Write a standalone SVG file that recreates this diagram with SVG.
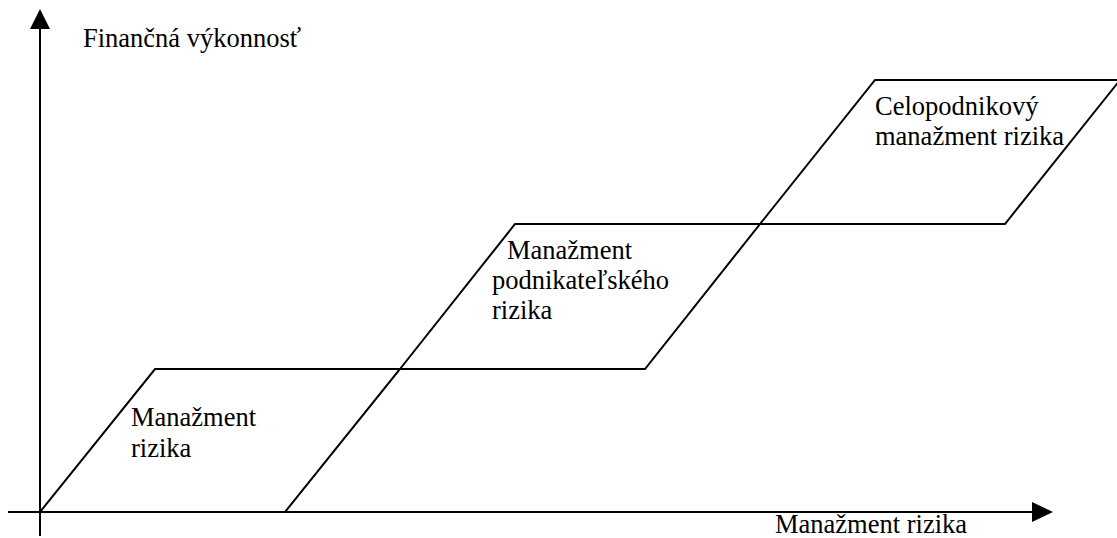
<svg xmlns="http://www.w3.org/2000/svg" width="1117" height="538" viewBox="0 0 1117 538">
<style>
.ax{stroke:#000;stroke-width:2;fill:none}
.pg{stroke:#000;stroke-width:2;fill:none;stroke-linejoin:miter}
.ah{fill:#000}
text{font-family:"Liberation Serif","Times New Roman",serif;font-size:26.5px;fill:#000}
</style>
<rect width="1117" height="538" fill="#fff"/>
<g id="axes">
<line class="ax" x1="40" y1="26" x2="40" y2="536"/>
<polygon class="ah" points="40,9 30,29 50,29"/>
<line class="ax" x1="8" y1="512" x2="1034" y2="512"/>
<polygon class="ah" points="1053,512 1032,502 1032,522"/>
<text x="83" y="47">Finančná výkonnosť</text>
<text x="775" y="533">Manažment rizika</text>
</g>
<g id="node1">
<polygon class="pg" points="40,512 155,369 400,369 285,512"/>
<text x="131" y="426">Manažment</text>
<text x="131" y="457">rizika</text>
</g>
<g id="node2">
<polygon class="pg" points="400,369 515,224 760,224 645,369"/>
<text x="507" y="259">Manažment</text>
<text x="492" y="289">podnikateľského</text>
<text x="492" y="319">rizika</text>
</g>
<g id="node3">
<polygon class="pg" points="760,224 875,80 1120,80 1005,224"/>
<text x="875" y="115">Celopodnikový</text>
<text x="875" y="145">manažment rizika</text>
</g>
</svg>
